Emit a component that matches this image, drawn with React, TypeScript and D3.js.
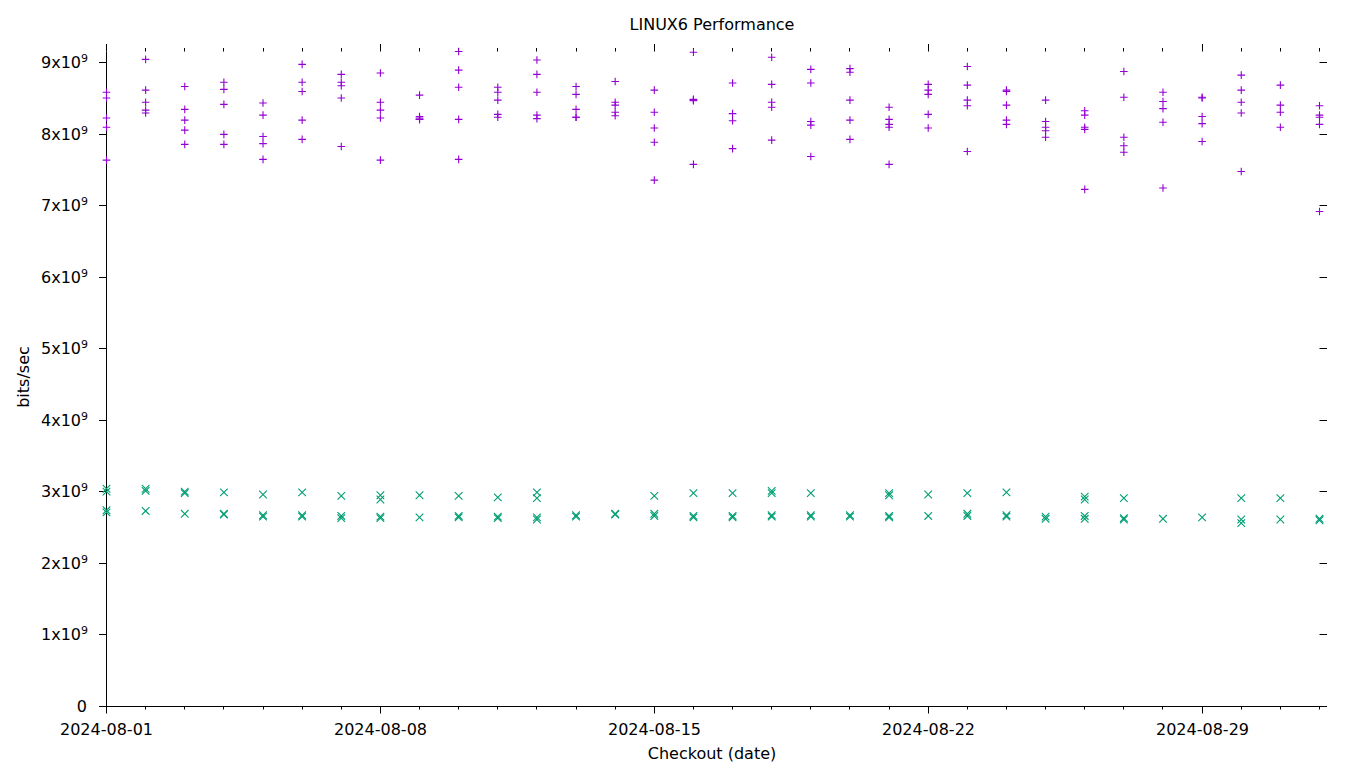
import React from "react";
import * as d3 from "d3";

// ---- data (values in units of 1e9 bits/sec) ----
const dates: string[] = [
  "2024-08-01", "2024-08-02", "2024-08-03", "2024-08-04", "2024-08-05", "2024-08-06",
  "2024-08-07", "2024-08-08", "2024-08-09", "2024-08-10", "2024-08-11", "2024-08-12",
  "2024-08-13", "2024-08-14", "2024-08-15", "2024-08-16", "2024-08-17", "2024-08-18",
  "2024-08-19", "2024-08-20", "2024-08-21", "2024-08-22", "2024-08-23", "2024-08-24",
  "2024-08-25", "2024-08-26", "2024-08-27", "2024-08-28", "2024-08-29", "2024-08-30",
  "2024-08-31", "2024-09-01",
];

const plusRuns: number[][] = [
  [8.59, 8.51, 8.23, 8.10, 7.64],
  [9.05, 8.62, 8.45, 8.34, 8.30],
  [8.67, 8.35, 8.20, 8.06, 7.86],
  [8.73, 8.63, 8.42, 8.00, 7.86],
  [8.44, 8.27, 7.97, 7.87, 7.65],
  [8.98, 8.73, 8.60, 8.20, 7.93],
  [8.84, 8.73, 8.68, 8.51, 7.83],
  [8.86, 8.45, 8.34, 8.23, 7.64],
  [8.55, 8.25, 8.23, 8.21, 8.21],
  [9.16, 8.90, 8.66, 8.21, 7.65],
  [8.66, 8.59, 8.48, 8.28, 8.24],
  [9.04, 8.84, 8.59, 8.27, 8.22],
  [8.67, 8.56, 8.35, 8.24, 8.24],
  [8.74, 8.45, 8.41, 8.31, 8.26],
  [8.62, 8.31, 8.09, 7.89, 7.36],
  [9.15, 8.49, 8.48, 8.47, 7.58],
  [8.72, 8.29, 8.19, 7.80],
  [9.08, 8.70, 8.45, 8.38, 7.92],
  [8.91, 8.72, 8.18, 8.13, 7.69],
  [8.92, 8.87, 8.48, 8.20, 7.93],
  [8.38, 8.21, 8.14, 8.10, 7.58],
  [8.70, 8.62, 8.56, 8.28, 8.09],
  [8.95, 8.69, 8.48, 8.40, 7.76],
  [8.62, 8.60, 8.41, 8.20, 8.14],
  [8.48, 8.18, 8.10, 8.05, 7.96],
  [8.33, 8.27, 8.10, 8.07, 7.23],
  [8.88, 8.52, 7.96, 7.84, 7.75],
  [8.59, 8.46, 8.36, 8.17, 7.25],
  [8.52, 8.51, 8.25, 8.15, 7.90],
  [8.83, 8.62, 8.45, 8.30, 7.48],
  [8.69, 8.41, 8.31, 8.10],
  [8.40, 8.27, 8.24, 8.14, 6.92],
];

const crossRuns: number[][] = [
  [3.04, 3.00, 2.74, 2.71],
  [3.04, 3.01, 2.73],
  [3.00, 2.98, 2.69],
  [2.99, 2.69, 2.68],
  [2.96, 2.67, 2.65],
  [2.99, 2.67, 2.65],
  [2.94, 2.66, 2.63],
  [2.95, 2.89, 2.65, 2.63],
  [2.95, 2.64],
  [2.94, 2.66, 2.64],
  [2.92, 2.65, 2.63],
  [2.99, 2.91, 2.64, 2.61],
  [2.67, 2.65],
  [2.69, 2.68],
  [2.94, 2.69, 2.66],
  [2.98, 2.66, 2.64],
  [2.98, 2.66, 2.64],
  [3.01, 2.98, 2.67, 2.65],
  [2.98, 2.67, 2.65],
  [2.67, 2.65],
  [2.98, 2.95, 2.66, 2.64],
  [2.96, 2.66],
  [2.98, 2.69, 2.66],
  [2.99, 2.67, 2.65],
  [2.65, 2.62],
  [2.93, 2.89, 2.66, 2.62],
  [2.91, 2.63, 2.61],
  [2.62],
  [2.64],
  [2.91, 2.61, 2.56],
  [2.91, 2.61],
  [2.62, 2.60],
];

const yTickMantissas: number[] = [0, 1, 2, 3, 4, 5, 6, 7, 8, 9];
const majorDateTicks: string[] = ["2024-08-01", "2024-08-08", "2024-08-15", "2024-08-22", "2024-08-29"];

const plusColor = "#9400d3";
const crossColor = "#009e73";

const W = 1360;
const H = 768;
const left = 106.5;
const right = 1319.5;
const bottom = 706;
const top = 51.5;
const FONT = "DejaVu Sans, sans-serif";

export default function App() {
  const parse = d3.utcParse("%Y-%m-%d");
  const dateObjs = dates.map((d) => parse(d) as Date);
  const x = d3
    .scaleUtc()
    .domain([dateObjs[0], dateObjs[dateObjs.length - 1]])
    .range([left, right]);
  const allVals = [...plusRuns.flat(), ...crossRuns.flat()].map((v) => v * 1e9);
  const y = d3
    .scaleLinear()
    .domain([0, d3.max(allVals) as number])
    .range([bottom, top]);

  const fmt = d3.utcFormat("%Y-%m-%d");
  const days = d3.utcDay.range(dateObjs[0], d3.utcDay.offset(dateObjs[dateObjs.length - 1], 1));
  const majorSet = new Set(majorDateTicks);

  const s = 3.8;
  const plusPath = `M${-s},0H${s}M0,${-s}V${s}`;
  const crossPath = `M${-s},${-s}L${s},${s}M${-s},${s}L${s},${-s}`;

  const plusPts: { x: number; y: number }[] = [];
  plusRuns.forEach((arr, i) => arr.forEach((v) => plusPts.push({ x: x(dateObjs[i]), y: y(v * 1e9) })));
  const crossPts: { x: number; y: number }[] = [];
  crossRuns.forEach((arr, i) => arr.forEach((v) => crossPts.push({ x: x(dateObjs[i]), y: y(v * 1e9) })));

  const snap = (v: number) => Math.round(v - 0.5) + 0.5;

  return (
    <svg
      width={W}
      height={H}
      style={{ position: "absolute", left: 0, top: 0, background: "#fff" }}
      fontFamily={FONT}
    >
      <rect x={0} y={0} width={W} height={H} fill="#fff" />
      {/* title */}
      <text x={712} y={29.5} textAnchor="middle" fontSize={16} fill="#000">
        LINUX6 Performance
      </text>

      {/* y ticks + labels */}
      {yTickMantissas.map((m) => {
        const yy = snap(y(m * 1e9));
        return (
          <g key={"y" + m}>
            <line x1={left - 7.5} x2={left} y1={yy} y2={yy} stroke="#000" strokeWidth={1} />
            <line x1={right} x2={right + 7.5} y1={yy} y2={yy} stroke="#000" strokeWidth={1} />
            {m === 0 ? (
              <text x={87} y={yy + 5.5} textAnchor="end" fontSize={16} fill="#000">
                0
              </text>
            ) : (
              <text x={88} y={yy + 5.5} textAnchor="end" fontSize={16} fill="#000">
                {m}x10
                <tspan fontSize={11} dy={-6.5}>
                  9
                </tspan>
              </text>
            )}
          </g>
        );
      })}

      {/* x ticks */}
      {days.map((d) => {
        const xx = snap(x(d));
        const major = majorSet.has(fmt(d));
        const len = major ? 7.5 : 3.5;
        return (
          <g key={"x" + fmt(d)}>
            <line x1={xx} x2={xx} y1={bottom} y2={bottom + len} stroke="#000" strokeWidth={1} />
            <line x1={xx} x2={xx} y1={top} y2={top - len} stroke="#000" strokeWidth={1} />
            {major && (
              <text x={xx} y={735} textAnchor="middle" fontSize={16} fill="#000">
                {fmt(d)}
              </text>
            )}
          </g>
        );
      })}

      {/* axes (left & bottom border) */}
      <line x1={left} x2={left} y1={top} y2={bottom + 0.5} stroke="#000" strokeWidth={1} />
      <line x1={left} x2={right} y1={bottom + 0.5} y2={bottom + 0.5} stroke="#000" strokeWidth={1} />

      {/* axis labels */}
      <text x={712} y={759} textAnchor="middle" fontSize={16} fill="#000">
        Checkout (date)
      </text>
      <text
        transform={`translate(29,377) rotate(-90)`}
        textAnchor="middle"
        fontSize={16}
        fill="#000"
      >
        bits/sec
      </text>

      {/* points */}
      <g stroke={plusColor} strokeWidth={1.1} fill="none">
        {plusPts.map((p, i) => (
          <path key={"p" + i} d={plusPath} transform={`translate(${p.x},${p.y})`} />
        ))}
      </g>
      <g stroke={crossColor} strokeWidth={1.1} fill="none">
        {crossPts.map((p, i) => (
          <path key={"c" + i} d={crossPath} transform={`translate(${p.x},${p.y})`} />
        ))}
      </g>
    </svg>
  );
}
